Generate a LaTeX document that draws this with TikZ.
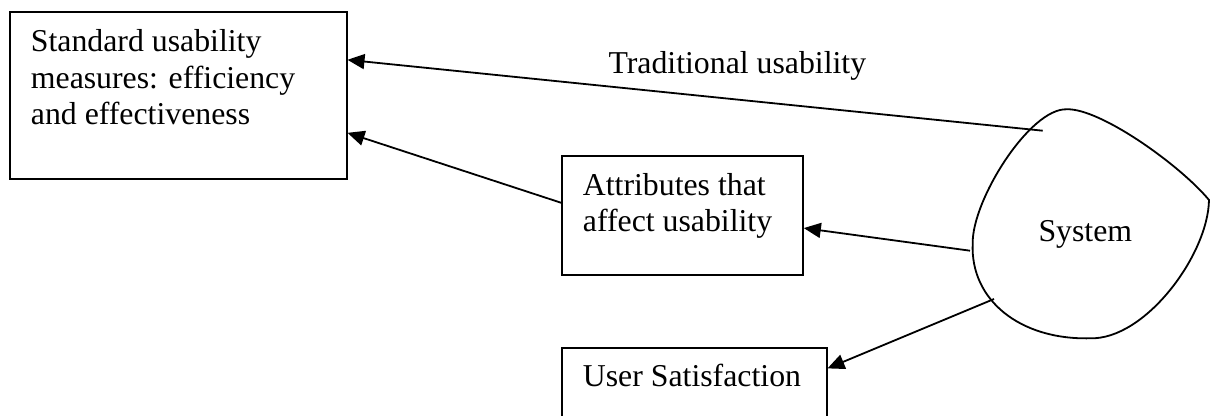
\documentclass[tikz,border=0pt]{standalone}
\usepackage{fontspec}
\setmainfont{Liberation Serif}
\usetikzlibrary{arrows.meta,calc}
\begin{document}
\begin{tikzpicture}[x=1pt,y=-1pt,
  box/.style={draw, line width=1.8pt, inner sep=0pt, anchor=north west},
  txt/.style={anchor=base west, inner sep=0pt, font=\fontsize{31.8pt}{36.6pt}\selectfont},
  link/.style={line width=1.8pt, -{Triangle[length=17pt,width=15pt]}}]
\useasboundingbox (0,0) rectangle (1210,415);
\clip (0,0) rectangle (1210,415);

% boxes
\node[box, minimum width=336.7pt, minimum height=167.6pt] (std) at (9,10.7) {};
\node[box, minimum width=241pt, minimum height=119pt] (attr) at (561,155) {};
\node[box, minimum width=264.7pt, minimum height=100pt] (user) at (561,346.7) {};

% box texts
\node[txt] (std1) at (30.7,51.7) {Standard usability};
\node[txt] (std2) at (30.7,88.2) {measures: efficiency};
\node[txt] (std3) at (30.7,124.5) {and effectiveness};
\node[txt] (attr1) at (582.7,195) {Attributes that};
\node[txt] (attr2) at (582.7,231) {affect usability};
\node[txt] (user1) at (582.7,386.7) {User Satisfaction};
\node[txt] (trad) at (608.3,73.3) {Traditional usability};

% the system blob
\draw[line width=1.8pt]
  (1066.7,109.3) .. controls (1100,108) and (1180,165) .. (1209,200)
                 .. controls (1208,255) and (1145,340) .. (1090,338.3)
                 .. controls (1020,340) and (970,300) .. (972.7,243.3)
                 .. controls (972,200) and (1030,108) .. cycle;
\node[txt] (sys) at (1038.3,241.7) {System};

% connector ends on the blob
\coordinate (s1) at (1042.7,130.7);
\coordinate (s2) at (970,250.7);
\coordinate (s3) at (994,299);

% connectors
\draw[link] (s1) -- ($(std.north east)!0.29!(std.south east)$);
\draw[link] ($(attr.north west)!0.395!(attr.south west)$) -- ($(std.north east)!0.721!(std.south east)$);
\draw[link] (s2) -- ($(attr.north east)!0.605!(attr.south east)$);
\draw[link] (s3) -- ($(user.north east)!0.213!(user.south east)$);
\end{tikzpicture}
\end{document}
